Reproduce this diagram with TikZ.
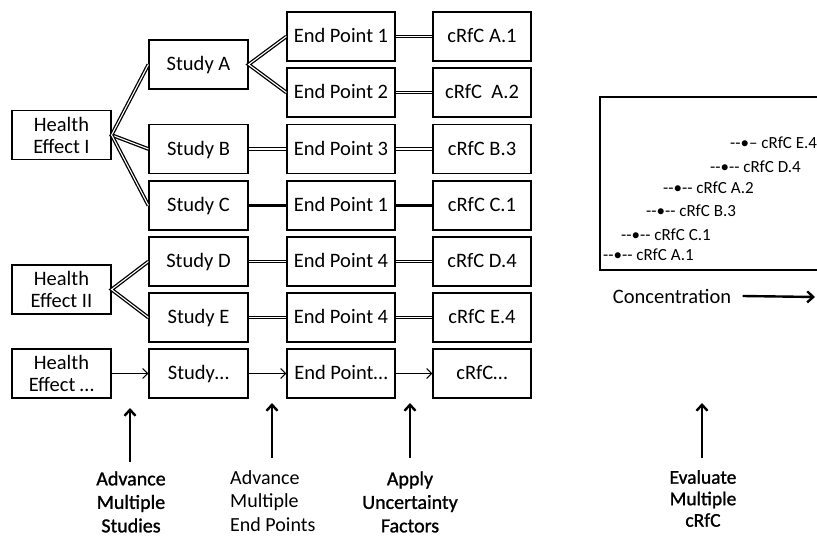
\documentclass[tikz,border=0pt]{standalone}
\usepackage{fontspec}
\setmainfont{Carlito}
\newfontfamily\semibold[FakeBold=1.2]{Carlito}
\usepackage{tikz}
\usetikzlibrary{arrows.meta}
\tikzset{
  boxnode/.style={draw, line width=1.2pt, minimum height=49pt, inner sep=0pt, align=center, font=\fontsize{20.5}{22}\selectfont},
  oneline/.style={text height=17pt, text depth=4pt},
  studybox/.style={boxnode, minimum width=99pt},
  pointbox/.style={boxnode, oneline, minimum width=108pt},
  rfcbox/.style={boxnode, oneline, minimum width=98pt},
  dbl/.style={line width=1.3pt, double, double distance=1.1pt},
  thickline/.style={line width=2.8pt},
  thinarrow/.style={line width=1pt, -{Straight Barb[length=5pt,width=10pt]}},
  uparrow/.style={line width=2.4pt, -{Straight Barb[length=6pt,width=11pt]}},
  steplabel/.style={align=center, font=\fontsize{20}{23.5}\selectfont},
  marklabel/.style={anchor=west, inner sep=0pt, font=\fontsize{17}{18}\selectfont}
}

\begin{document}
\begin{tikzpicture}[x=1pt, y=-1pt]
    \useasboundingbox (0,0) rectangle (817,537);
    \clip (0,0) rectangle (817,537);
    % health effects
        \node[studybox] (heI) at (61.5,135) {Health\\Effect I};
        \node[studybox] (heII) at (61.5,289.5) {Health\\Effect II};
        \node[studybox] (heN) at (61.5,373.5) {Health\\Effect \dots};
    % studies
        \node[studybox, oneline] (stA) at (198.5,64.5) {Study A};
        \node[studybox, oneline] (stB) at (198.5,149) {Study B};
        \node[studybox, oneline] (stC) at (198.5,205.5) {Study C};
        \node[studybox, oneline] (stD) at (198.5,261.5) {Study D};
        \node[studybox, oneline] (stE) at (198.5,317.5) {Study E};
        \node[studybox, oneline] (stN) at (198.5,373.5) {Study\dots};
    % end points
        \node[pointbox] (epA1) at (341,36.5) {End Point 1};
        \node[pointbox] (epA2) at (341,92.5) {End Point 2};
        \node[pointbox] (epB3) at (341,149) {End Point 3};
        \node[pointbox] (epC1) at (341,205.5) {End Point 1};
        \node[pointbox] (epD4) at (341,261.5) {End Point 4};
        \node[pointbox] (epE4) at (341,317.5) {End Point 4};
        \node[pointbox] (epN) at (341,373.5) {End Point\dots};
    % cRfC
        \node[rfcbox] (rfA1) at (482,36.5) {cRfC A.1};
        \node[rfcbox] (rfA2) at (482,92.5) {cRfC \ A.2};
        \node[rfcbox] (rfB3) at (482,149) {cRfC B.3};
        \node[rfcbox] (rfC1) at (482,205.5) {cRfC C.1};
        \node[rfcbox] (rfD4) at (482,261.5) {cRfC D.4};
        \node[rfcbox] (rfE4) at (482,317.5) {cRfC E.4};
        \node[rfcbox] (rfN) at (482,373.5) {cRfC\dots};
    % branches
        \draw[dbl] (stA.west) -- (heI.east) -- (stB.west);
        \draw[dbl] (heI.east) -- (stC.west);
        \draw[dbl] (epA1.west) -- (stA.east) -- (epA2.west);
        \draw[dbl] (stD.west) -- (heII.east) -- (stE.west);
    % links
        \draw[dbl] (stB) -- (epB3);
        \draw[dbl] (stD) -- (epD4);
        \draw[dbl] (stE) -- (epE4);
        \draw[dbl] (epA1) -- (rfA1);
        \draw[dbl] (epA2) -- (rfA2);
        \draw[dbl] (epB3) -- (rfB3);
        \draw[dbl] (epD4) -- (rfD4);
        \draw[dbl] (epE4) -- (rfE4);
        \draw[thickline] (stC) -- (epC1);
        \draw[thickline] (epC1) -- (rfC1);
        \draw[thinarrow] (heN) -- (stN);
        \draw[thinarrow] (stN) -- (epN);
        \draw[thinarrow] (epN) -- (rfN);
    % steps below
        \coordinate (baseS) at (130,462);
        \coordinate (tipS) at (130,408);
        \coordinate (baseP) at (272,458);
        \coordinate (tipP) at (272,403);
        \coordinate (baseU) at (410,458);
        \coordinate (tipU) at (410,403);
        \coordinate (baseE) at (702,458);
        \coordinate (tipE) at (702,403);
        \draw[uparrow] (baseS) -- (tipS);
        \draw[uparrow] (baseP) -- (tipP);
        \draw[uparrow] (baseU) -- (tipU);
        \draw[uparrow] (baseE) -- (tipE);
        \node[steplabel, font=\fontsize{20}{23.5}\semibold] (lblS) at (131,502) {Advance\\Multiple\\Studies};
        \node[steplabel, align=left, anchor=west, inner sep=0pt] (lblP) at (230,501) {Advance\\Multiple\\End Points};
        \node[steplabel, font=\fontsize{20}{23.5}\semibold] (lblU) at (410,502) {Apply\\Uncertainty\\Factors};
        \node[steplabel, font=\fontsize{19.5}{21.5}\semibold] (lblE) at (703,498.5) {Evaluate\\Multiple\\cRfC};
    % concentration plot
        \draw[line width=2pt] (600,97) rectangle (830,270);
        \node[marklabel] (mkA1) at (603,255) {-{}-\textbullet-{}- cRfC A.1};
        \node[marklabel] (mkC1) at (621,235) {-{}-\textbullet-{}- cRfC C.1};
        \node[marklabel] (mkB3) at (646,211) {-{}-\textbullet-{}- cRfC B.3};
        \node[marklabel] (mkA2) at (663,188) {-{}-\textbullet-{}- cRfC A.2};
        \node[marklabel] (mkD4) at (710,167) {-{}-\textbullet-{}- cRfC D.4};
        \node[marklabel] (mkE4) at (730,143) {-{}-\textbullet-- cRfC E.4};
        \node[font=\fontsize{20.5}{22}\selectfont] (conc) at (672,296) {Concentration};
        \coordinate (concEnd) at (815,297);
        \draw[uparrow] ([xshift=8pt]conc.east) -- (concEnd);
\end{tikzpicture}
\end{document}
